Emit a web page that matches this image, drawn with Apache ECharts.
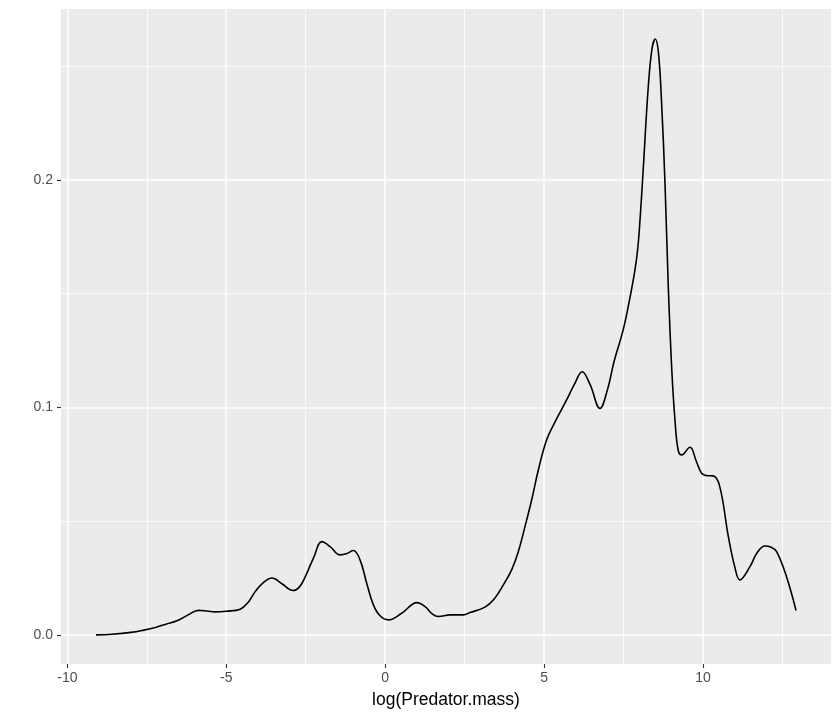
<!DOCTYPE html>
<html>
<head>
<meta charset="utf-8">
<script src="https://cdn.jsdelivr.net/npm/echarts@6/dist/echarts.min.js"></script>
<style>
html,body{margin:0;padding:0;background:#fff;}
#chart{width:840px;height:720px;}
</style>
</head>
<body>
<div id="chart"></div>
<script>
var xValues = [-9.10,-8.60,-8.00,-7.60,-7.20,-6.90,-6.55,-6.20,-5.87,-5.60,-5.35,-5.00,-4.56,-4.30,-4.10,-3.85,-3.56,-3.25,-2.90,-2.70,-2.50,-2.25,-1.99,-1.73,-1.42,-1.20,-1.00,-0.79,-0.58,-0.37,-0.16,0.10,0.52,1.00,1.25,1.50,1.68,2.04,2.46,2.67,3.14,3.41,3.72,3.98,4.19,4.40,4.61,4.82,5.08,5.35,5.71,5.95,6.20,6.45,6.76,7.00,7.20,7.49,7.70,7.86,7.95,8.02,8.12,8.28,8.40,8.50,8.60,8.70,8.81,8.91,9.02,9.12,9.22,9.33,9.59,9.80,9.96,10.15,10.32,10.53,10.80,11.00,11.16,11.48,11.70,11.95,12.15,12.32,12.63,12.93];
var densityValues = [0.0000,0.0003,0.0011,0.0021,0.0034,0.0047,0.0062,0.0088,0.0108,0.0105,0.0101,0.0104,0.0113,0.0145,0.0188,0.0228,0.0250,0.0225,0.0195,0.0210,0.0260,0.0340,0.0410,0.0388,0.0352,0.0358,0.0371,0.0330,0.0227,0.0132,0.0084,0.0066,0.0095,0.0142,0.0125,0.0090,0.0081,0.0088,0.0088,0.0098,0.0122,0.0154,0.0220,0.0286,0.0366,0.0476,0.0593,0.0725,0.0857,0.0938,0.1033,0.1100,0.1157,0.1100,0.0996,0.1080,0.1200,0.1341,0.1480,0.1604,0.1700,0.1824,0.2044,0.2410,0.2580,0.2620,0.2560,0.2337,0.1970,0.1531,0.1165,0.0945,0.0813,0.0791,0.0825,0.0760,0.0711,0.0700,0.0699,0.0652,0.0432,0.0300,0.0242,0.0300,0.0360,0.0391,0.0385,0.0366,0.0256,0.0107];
var xMajorTicks = [-10,-5,0,5,10];
var xMinorTicks = [-7.5,-2.5,2.5,7.5,12.5];
var yMajorTicks = [0,0.1,0.2];
var yMinorTicks = [0.05,0.15,0.25];
var xTitle = 'log(Predator.mass)';

var points = xValues.map(function(x,i){return [x, densityValues[i]];});
var gridLines = [];
xMinorTicks.forEach(function(v){gridLines.push({xAxis:v, lineStyle:{color:'#fff',width:0.8,type:'solid'}});});
yMinorTicks.forEach(function(v){gridLines.push({yAxis:v, lineStyle:{color:'#fff',width:0.8,type:'solid'}});});
xMajorTicks.forEach(function(v){gridLines.push({xAxis:v, lineStyle:{color:'#fff',width:1.5,type:'solid'}});});
yMajorTicks.forEach(function(v){gridLines.push({yAxis:v, lineStyle:{color:'#fff',width:1.5,type:'solid'}});});

var chart = echarts.init(document.getElementById('chart'), null, {renderer:'canvas'});
chart.setOption({
  animation:false,
  backgroundColor:'#ffffff',
  textStyle:{fontFamily:'Liberation Sans, Arial, sans-serif'},
  grid:{left:61,top:9,right:9,bottom:56,show:true,backgroundColor:'#EBEBEB',borderWidth:0,containLabel:false},
  xAxis:{
    type:'value', min:-10.2, max:14.03,
    name:xTitle, nameLocation:'middle', nameGap:27,
    nameTextStyle:{color:'#000',fontSize:17.5,fontFamily:'Liberation Sans, Arial, sans-serif'},
    axisLine:{show:false,onZero:false},
    axisTick:{show:true,customValues:xMajorTicks,length:4,lineStyle:{color:'#333',width:1.1}},
    axisLabel:{show:true,customValues:xMajorTicks,margin:7,color:'#4D4D4D',fontSize:14,fontFamily:'Liberation Sans, Arial, sans-serif'},
    splitLine:{show:false}
  },
  yAxis:{
    type:'value', min:-0.0128, max:0.2752,
    axisLine:{show:false,onZero:false},
    axisTick:{show:true,customValues:yMajorTicks,length:4,lineStyle:{color:'#333',width:1.1}},
    axisLabel:{show:true,customValues:yMajorTicks,margin:8,color:'#4D4D4D',fontSize:14,fontFamily:'Liberation Sans, Arial, sans-serif',
      formatter:function(v){return v.toFixed(1);}},
    splitLine:{show:false}
  },
  series:[
    {type:'line',data:[],z:1,silent:true,
     markLine:{silent:true,z:1,symbol:['none','none'],label:{show:false},animation:false,data:gridLines}},
    {type:'line',data:points,z:10,showSymbol:false,symbol:'none',smooth:0.4,
     lineStyle:{color:'#000',width:1.6},silent:true}
  ]
});
</script>
</body>
</html>
